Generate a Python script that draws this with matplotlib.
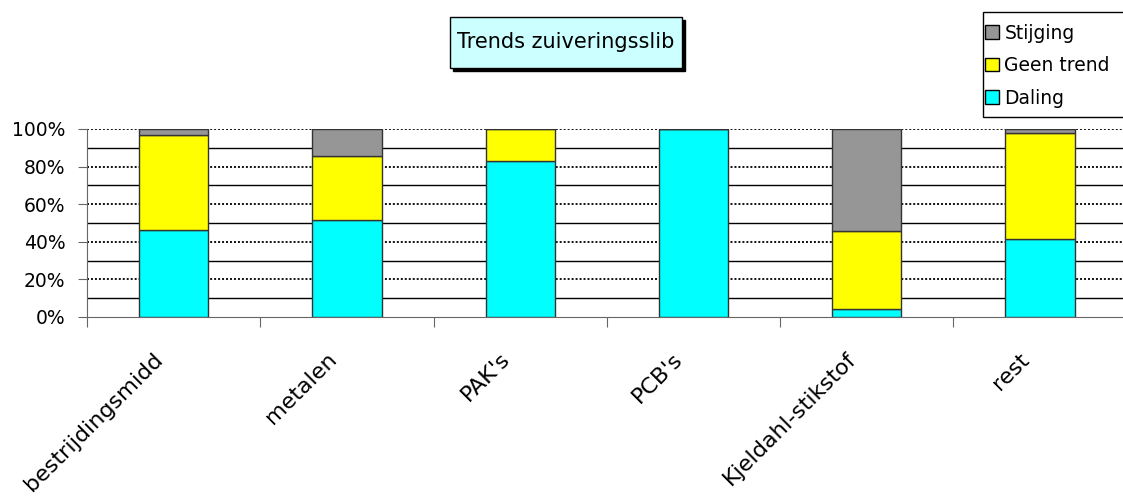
import matplotlib
matplotlib.use('Agg')
import matplotlib.pyplot as plt
from matplotlib.patches import Rectangle, Patch
import numpy as np

categories = ['bestrijdingsmidd', 'metalen', "PAK's", "PCB's", 'Kjeldahl-stikstof', 'rest']
daling = [46.3, 51.6, 82.8, 100.0, 4.1, 41.5]
geen_trend = [50.3, 33.9, 17.2, 0.0, 41.6, 56.2]
stijging = [3.4, 14.5, 0.0, 0.0, 54.3, 2.3]
series_names = ['Daling', 'Geen trend', 'Stijging']
colors = ['#00FFFF', '#FFFF00', '#969696']

W, H = 1123, 504
fig = plt.figure(figsize=(W / 100, H / 100), dpi=100)
plt.rcParams['font.family'] = ['DejaVu Sans']

# axes placed in pixel terms of the original picture
x0, x1, y0, y1 = 87, 1126.7, 317, 129
ax = fig.add_axes([x0 / W, 1 - y0 / H, (x1 - x0) / W, (y0 - y1) / H])

x = np.arange(len(categories))
bottom = np.zeros(len(categories))
for vals, name, col in zip([daling, geen_trend, stijging], series_names, colors):
    ax.bar(x, vals, width=0.4, bottom=bottom, color=col, edgecolor='#333333',
           linewidth=1.0, label=name, zorder=3)
    bottom += np.array(vals)

ax.set_xlim(-0.5, len(categories) - 0.5)
ax.set_ylim(0, 100)

# gridlines: dotted at major, solid at the odd tens
for v in [20, 40, 60, 80, 100]:
    ax.axhline(v, color='black', linestyle=(0, (1.1, 1.1)), linewidth=1.3, zorder=1)
for v in [10, 30, 50, 70, 90]:
    ax.axhline(v, color='black', linewidth=1.0, zorder=1)

ax.spines[['top', 'right']].set_visible(False)
ax.spines['left'].set_color('#666666')
ax.spines['bottom'].set_color('#666666')

ax.set_yticks([0, 20, 40, 60, 80, 100])
ax.set_yticklabels([f'{v}%' for v in [0, 20, 40, 60, 80, 100]], fontsize=13.5)
ax.tick_params(axis='y', length=6.5, color='#666666', pad=9)

ax.set_xticks(np.arange(len(categories) + 1) - 0.5)
ax.set_xticklabels([])
ax.tick_params(axis='x', length=7, direction='out', color='#666666')
for i, c in enumerate(categories):
    ax.text(i - 0.12, -17, c, rotation=45, ha='right', va='top', fontsize=16,
            rotation_mode='anchor', transform=ax.transData, clip_on=False)

# title box with shadow
bx0, bx1, by0, by1 = 450, 682, 17, 68
fig.patches.append(Rectangle(((bx0 + 3) / W, 1 - (by1 + 3) / H), (bx1 - bx0) / W,
                             (by1 - by0) / H, transform=fig.transFigure,
                             facecolor='black', edgecolor='black', zorder=1))
fig.patches.append(Rectangle((bx0 / W, 1 - by1 / H), (bx1 - bx0) / W,
                             (by1 - by0) / H, transform=fig.transFigure,
                             facecolor='#CCFFFF', edgecolor='black', linewidth=1, zorder=2))
fig.text((bx0 + bx1) / 2 / W, 1 - (by0 + by1) / 2 / H, 'Trends zuiveringsslib',
         ha='center', va='center', fontsize=15)

# legend frame runs past the right edge, as in the original
lx0, lx1, ly0, ly1 = 983, 1135, 12, 117
fig.patches.append(Rectangle((lx0 / W, 1 - ly1 / H), (lx1 - lx0) / W, (ly1 - ly0) / H,
                             transform=fig.transFigure, facecolor='white',
                             edgecolor='black', linewidth=1, zorder=1))
handles = [Patch(facecolor=colors[i], edgecolor='black', label=series_names[i]) for i in [2, 1, 0]]
leg = fig.legend(handles=handles, loc='upper left', bbox_to_anchor=(979 / W, 1 - 18 / H),
                 fontsize=13.5, frameon=False,
                 handlelength=0.75, handleheight=0.75, handletextpad=0.3,
                 labelspacing=0.72, borderpad=0.3, borderaxespad=0)

fig.savefig('out.png', dpi=100)
